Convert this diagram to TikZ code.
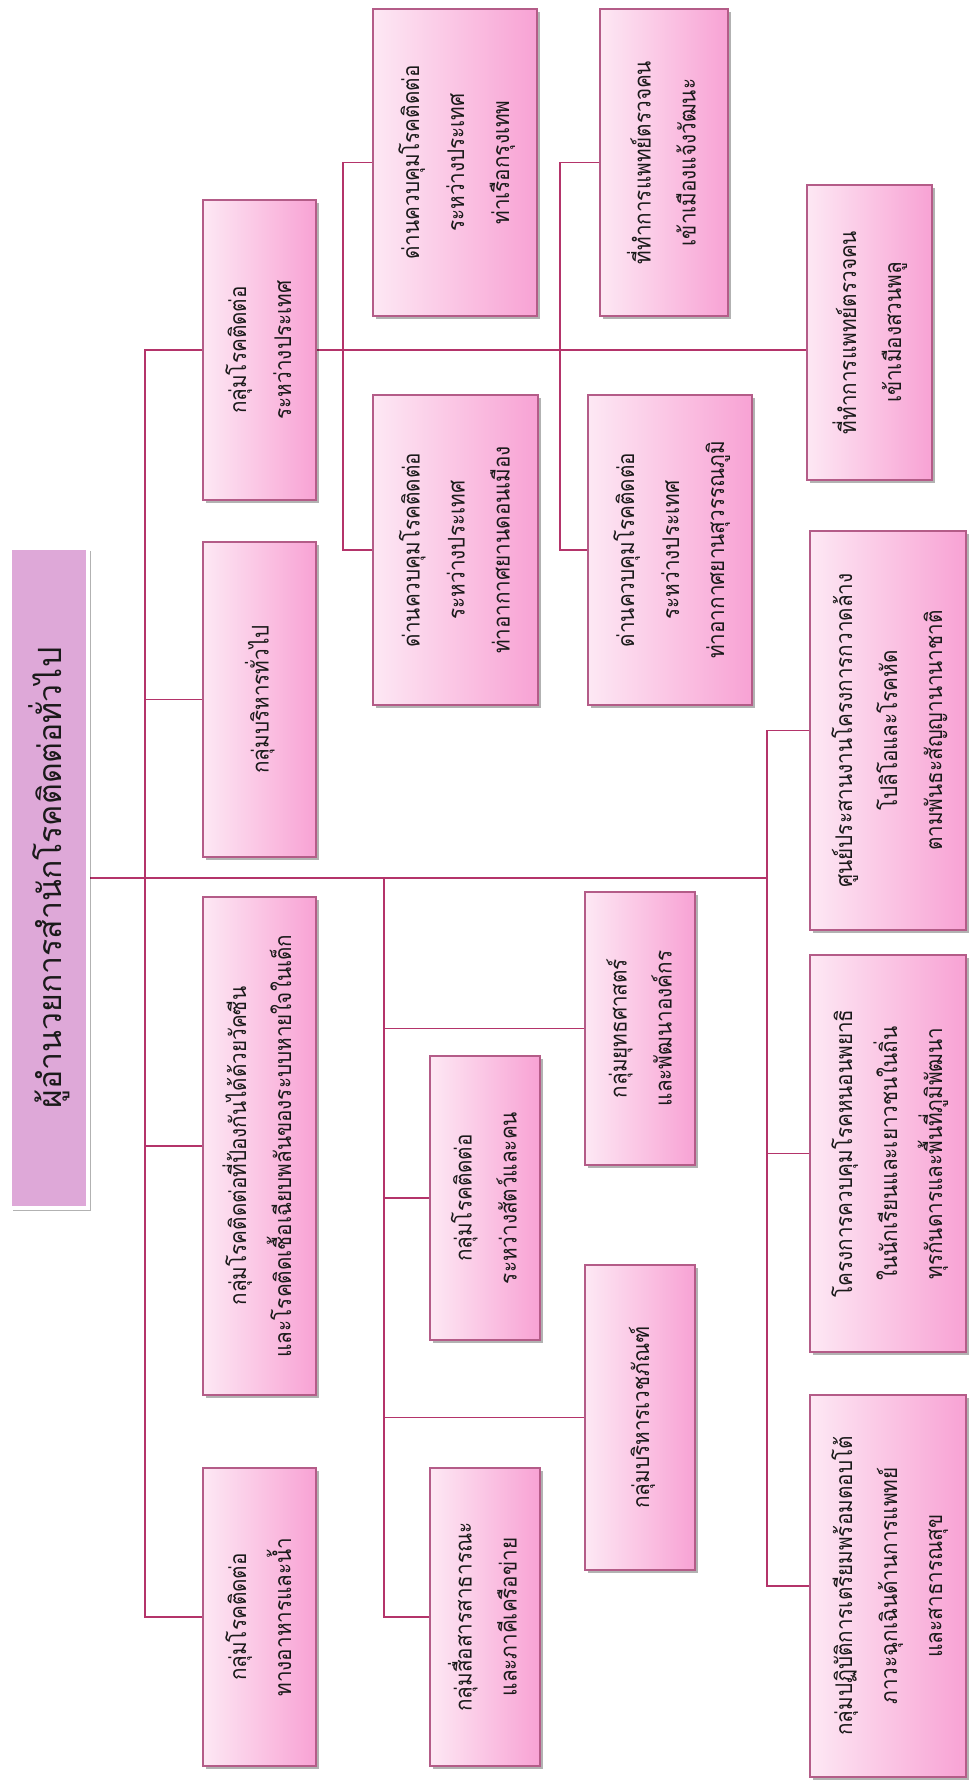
\documentclass[tikz,border=0pt]{standalone}
\usepackage{fontspec}
\newfontfamily\thaifont[Script=Thai]{Loma}
\usetikzlibrary{shadows,backgrounds}
\definecolor{lineC}{HTML}{B4346A}
\definecolor{borderC}{HTML}{B45C88}
\definecolor{pinkL}{HTML}{FDE8F4}
\definecolor{pinkR}{HTML}{F8A2D4}
\definecolor{rootC}{HTML}{DEA8D8}
\definecolor{txtC}{HTML}{1A1A1A}
\newcommand\vtext[1]{\rotatebox{90}{\scalebox{0.9}[1]{\begin{tabular}{@{}c@{}}#1\end{tabular}}}}
\newcommand\orgbox[6]{\node[box, minimum width={#3-#2}, minimum height={#5-#4}] (#1) at ({(#2+#3)/2},{(#4+#5)/2}) {\vtext{#6}};}
\begin{document}
\begin{tikzpicture}[x=1pt,y=-1pt,
  box/.style={draw=borderC, line width=1.2pt, left color=pinkL, right color=pinkR, inner sep=0pt,
    text=txtC, font=\thaifont\fontsize{23}{45}\selectfont,
    drop shadow={shadow xshift=2.5pt, shadow yshift=-2.5pt, opacity=0.3, fill=black}},
  rootbox/.style={draw=white, line width=4pt, fill=rootC, inner sep=0pt, text=txtC,
    font=\thaifont\fontsize{32}{40}\selectfont,
    drop shadow={shadow xshift=3pt, shadow yshift=-3pt, opacity=0.3, fill=black}},
  conn/.style={draw=lineC, line width=1.8pt}]
\useasboundingbox (0,0) rectangle (974,1791);

\node[rootbox, minimum width=78, minimum height=660] (root) at (49,878) {\rotatebox{90}{ผู้อำนวยการสำนักโรคติดต่อทั่วไป}};

\orgbox{B1}{203}{316}{200}{500}{กลุ่มโรคติดต่อ\\ระหว่างประเทศ}
\orgbox{B2}{203}{316}{542}{857}{กลุ่มบริหารทั่วไป}
\orgbox{B3}{203}{316}{897}{1395}{กลุ่มโรคติดต่อที่ป้องกันได้ด้วยวัคซีน\\และโรคติดเชื้อเฉียบพลันของระบบหายใจในเด็ก}
\orgbox{B4}{203}{316}{1468}{1766}{กลุ่มโรคติดต่อ\\ทางอาหารและน้ำ}

\orgbox{D1}{373}{537}{9}{316}{ด่านควบคุมโรคติดต่อ\\ระหว่างประเทศ\\ท่าเรือกรุงเทพ}
\orgbox{D2}{373}{538}{395}{705}{ด่านควบคุมโรคติดต่อ\\ระหว่างประเทศ\\ท่าอากาศยานดอนเมือง}
\orgbox{D3}{600}{728}{9}{316}{ที่ทำการแพทย์ตรวจคน\\เข้าเมืองแจ้งวัฒนะ}
\orgbox{D4}{588}{752}{395}{705}{ด่านควบคุมโรคติดต่อ\\ระหว่างประเทศ\\ท่าอากาศยานสุวรรณภูมิ}
\orgbox{D5}{807}{932}{185}{480}{ที่ทำการแพทย์ตรวจคน\\เข้าเมืองสวนพลู}

\orgbox{C1}{810}{966}{531}{930}{ศูนย์ประสานงานโครงการกวาดล้าง\\โปลิโอและโรคหัด\\ตามพันธะสัญญานานาชาติ}
\orgbox{C2}{810}{966}{955}{1352}{โครงการควบคุมโรคหนอนพยาธิ\\ในนักเรียนและเยาวชนในถิ่น\\ทุรกันดารและพื้นที่ภูมิพัฒนา}
\orgbox{C3}{810}{966}{1395}{1777}{กลุ่มปฏิบัติการเตรียมพร้อมตอบโต้\\ภาวะฉุกเฉินด้านการแพทย์\\และสาธารณสุข}

\orgbox{E1}{585}{695}{892}{1165}{กลุ่มยุทธศาสตร์\\และพัฒนาองค์กร}
\orgbox{E2}{430}{540}{1056}{1340}{กลุ่มโรคติดต่อ\\ระหว่างสัตว์และคน}
\orgbox{E3}{585}{695}{1265}{1570}{กลุ่มบริหารเวชภัณฑ์}
\orgbox{E4}{430}{540}{1468}{1766}{กลุ่มสื่อสารสาธารณะ\\และภาคีเครือข่าย}

\coordinate (sx) at (145,0);
\coordinate (ex) at (384,0);
\coordinate (rx) at (767,0);
\coordinate (dxa) at (343,0);
\coordinate (dxb) at (560,0);

\begin{scope}[on background layer]
\fill[white] (0,0) rectangle (974,1791);
\draw[conn] (B1.west) -- (B1.west -| sx) -- (B4.west -| sx) -- (B4.west);
\draw[conn] (B2.west) -- (B2.west -| sx);
\draw[conn] (B3.west) -- (B3.west -| sx);
\draw[conn] (root.east) -- (root.east -| rx);
\draw[conn] (root.east -| ex) -- (E4.west -| ex) -- (E4.west);
\draw[conn] (E1.west) -- (E1.west -| ex);
\draw[conn] (E2.west) -- (E2.west -| ex);
\draw[conn] (E3.west) -- (E3.west -| ex);
\draw[conn] (C1.west) -- (C1.west -| rx) -- (C3.west -| rx) -- (C3.west);
\draw[conn] (C2.west) -- (C2.west -| rx);
\draw[conn] (B1.east) -- (B1.east -| D5.west);
\draw[conn] (D1.west) -- (D1.west -| dxa) -- (D2.west -| dxa) -- (D2.west);
\draw[conn] (D3.west) -- (D3.west -| dxb) -- (D4.west -| dxb) -- (D4.west);
\end{scope}
\end{tikzpicture}
\end{document}
